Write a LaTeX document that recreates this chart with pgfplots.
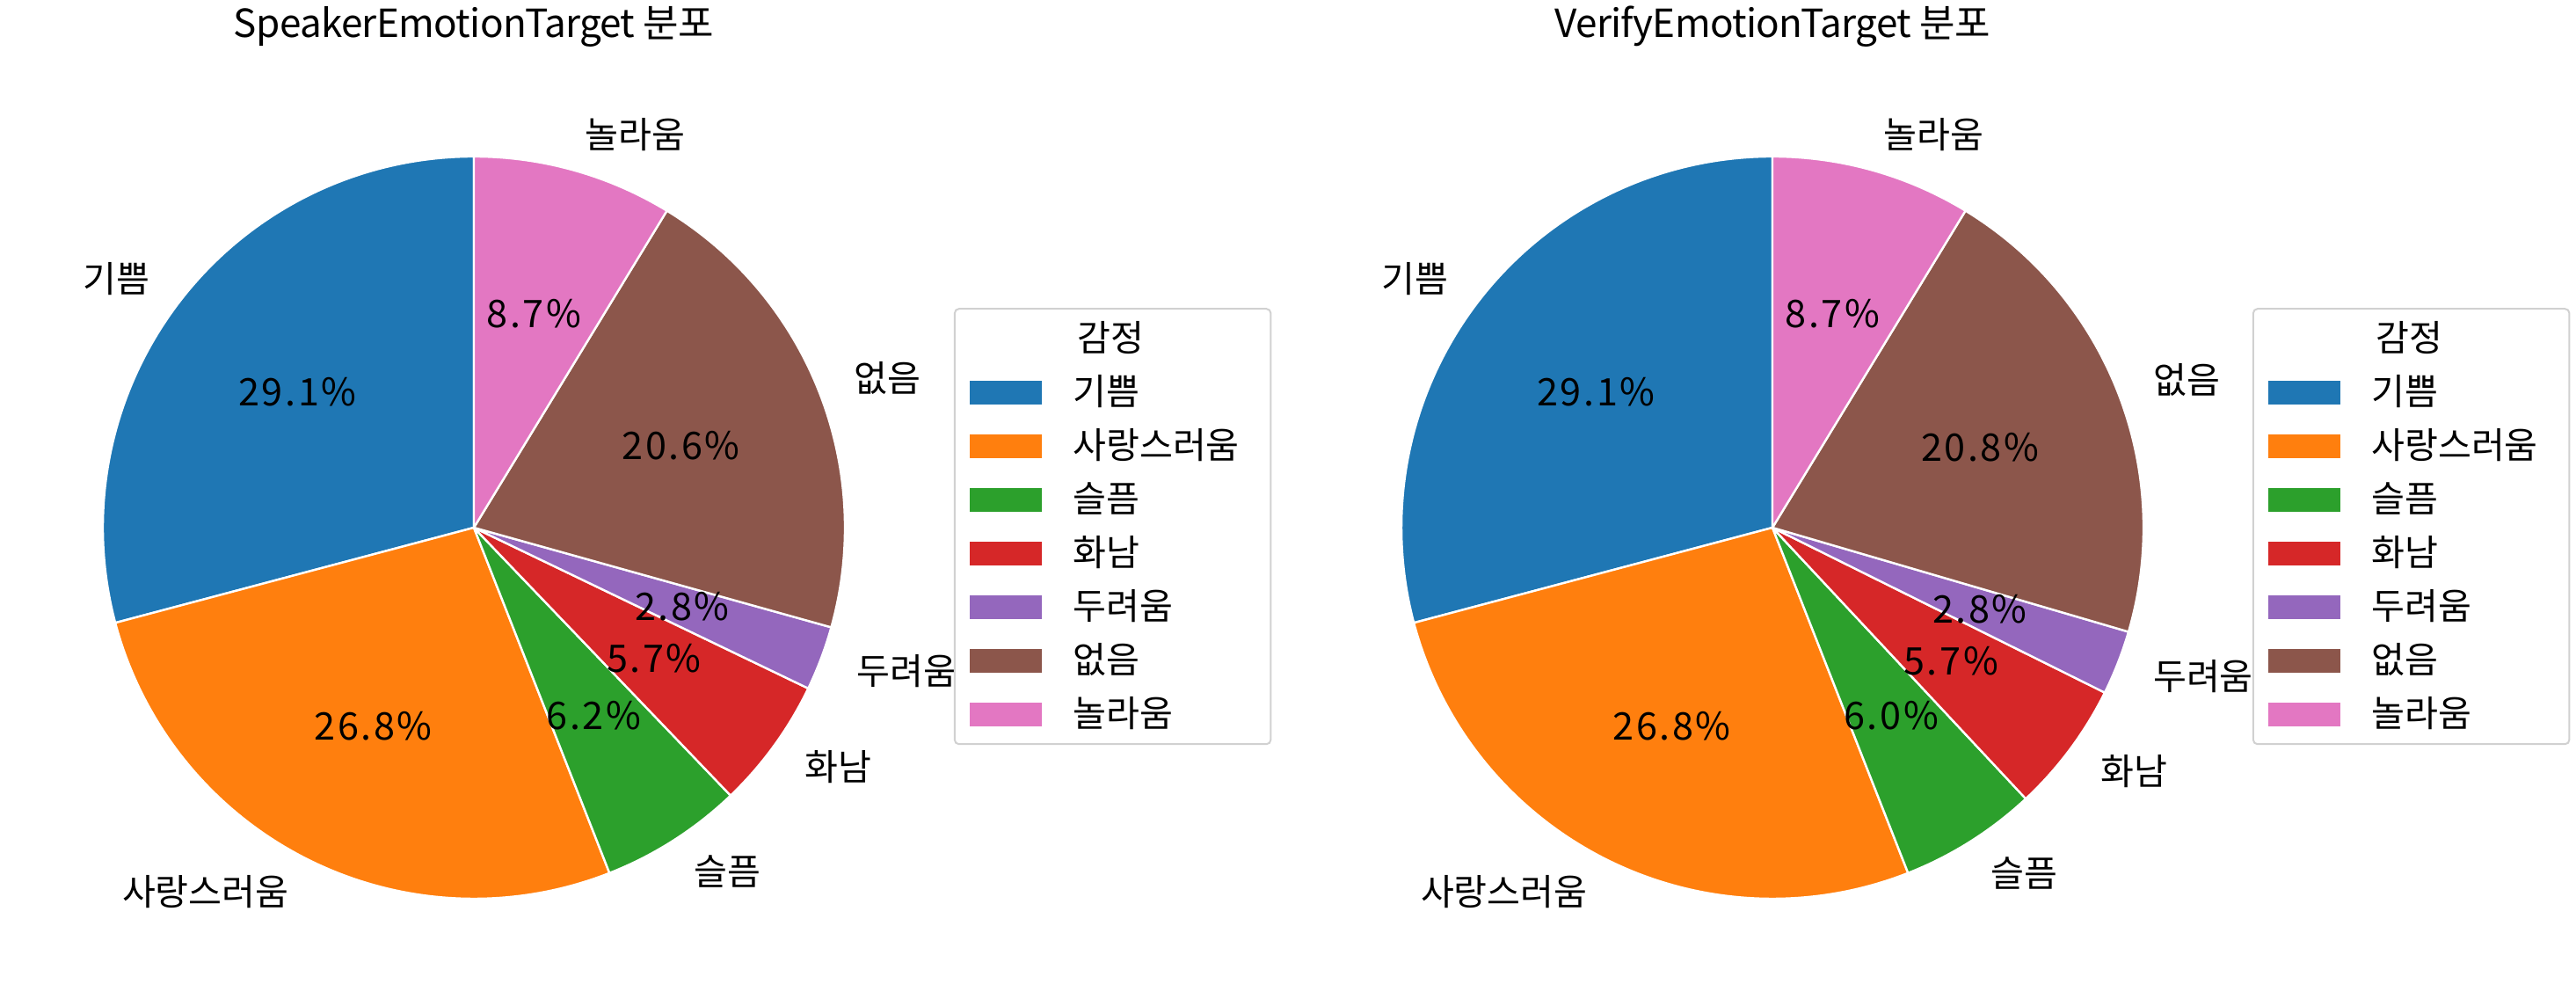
\documentclass[border=0pt]{standalone}
\usepackage{fontspec}
\setmainfont{Noto Sans CJK KR}
\usepackage{pgfplots}
\pgfplotsset{compat=1.18}
\usepackage{pgfplotstable}

\definecolor{c0}{HTML}{1F77B4}
\definecolor{c1}{HTML}{FF7F0E}
\definecolor{c2}{HTML}{2CA02C}
\definecolor{c3}{HTML}{D62728}
\definecolor{c4}{HTML}{9467BD}
\definecolor{c5}{HTML}{8C564B}
\definecolor{c6}{HTML}{E377C2}

\newcommand\lblfont{\fontsize{10.3pt}{12pt}\selectfont}
\newcommand\pctfont{\fontsize{10.8pt}{12pt}\selectfont\addfontfeature{LetterSpace=6}}
\newcommand\ttlfont{\fontsize{11pt}{13pt}\selectfont\addfontfeature{LetterSpace=-1.5}}

\pgfplotstableread[col sep=comma]{
label,value
기쁨,29.1
사랑스러움,26.8
슬픔,6.2
화남,5.7
두려움,2.8
없음,20.6
놀라움,8.7
}\tblA

\pgfplotstableread[col sep=comma]{
label,value
기쁨,29.1
사랑스러움,26.8
슬픔,6.0
화남,5.7
두려움,2.8
없음,20.8
놀라움,8.7
}\tblB

\newcommand\preppie[2]{%
  \pgfmathsetmacro\pTot{0}%
  \pgfplotsforeachungrouped \pI in {0,...,6}{%
    \pgfplotstablegetelem{\pI}{value}\of#1%
    \pgfmathsetmacro\pTot{\pTot+\pgfplotsretval}}%
  \def\pAcc{90}%
  \pgfplotsforeachungrouped \pI in {0,...,6}{%
    \pgfplotstablegetelem{\pI}{value}\of#1%
    \edef\pVal{\pgfplotsretval}%
    \pgfmathsetmacro\pEnd{\pAcc+360*\pVal/\pTot}%
    \pgfmathsetmacro\pMid{(\pAcc+\pEnd)/2}%
    \pgfmathsetmacro\pCos{cos(\pMid)}%
    \expandafter\xdef\csname#2S\pI\endcsname{\pAcc}%
    \expandafter\xdef\csname#2E\pI\endcsname{\pEnd}%
    \expandafter\xdef\csname#2M\pI\endcsname{\pMid}%
    \expandafter\xdef\csname#2V\pI\endcsname{\pVal}%
    \ifdim\pCos pt>0pt
      \expandafter\gdef\csname#2A\pI\endcsname{west}%
    \else
      \expandafter\gdef\csname#2A\pI\endcsname{east}%
    \fi
    \pgfplotstablegetelem{\pI}{label}\of#1%
    \expandafter\xdef\csname#2L\pI\endcsname{\pgfplotsretval}%
    \let\pAcc\pEnd
  }}
\preppie{\tblA}{PA}
\preppie{\tblB}{PB}

\newcommand\cs[1]{\csname#1\endcsname}

\pgfplotsset{
  legend image code/.code={\fill[#1, draw=none, sharp corners] (0pt,-3.375pt) rectangle (20.6pt,3.375pt);},
  pieax/.style={
    anchor=origin, x=105.5pt, y=105.5pt,
    xmin=-1.4, xmax=1.4, ymin=-1.4, ymax=1.4,
    hide axis, clip=false,
    legend style={at={(0.962,0.7114)}, anchor=north west, draw=black!18, fill=white,
      rounded corners=1.2pt, line width=0.5pt,
      inner xsep=4.25pt, inner ysep=4pt, row sep=6.25pt, column sep=8.75pt,
      nodes={inner sep=0pt, text height=8pt, text depth=1pt, font=\lblfont},
      cells={anchor=west}},
  },
}

\newcommand\drawpie[1]{%
  \pgfplotsinvokeforeach{0,...,6}{%
    \fill[c##1, draw=white, line width=0.6pt, line join=round] (axis cs:0,0) -- ++(\cs{#1S##1}:105.5pt)
      arc[start angle=\cs{#1S##1}, end angle=\cs{#1E##1}, radius=105.5pt] -- cycle;
  }%
  \pgfplotsinvokeforeach{0,...,6}{%
    \path (axis cs:0,0) ++(\cs{#1M##1}:116.05pt) node[anchor=\cs{#1A##1}, inner sep=0pt, font=\lblfont] {\cs{#1L##1}};
    \path (axis cs:0,0) ++(\cs{#1M##1}:63.3pt) node[inner sep=0pt, font=\pctfont] {\cs{#1V##1}\%};
  }%
  \addlegendimage{empty legend}\addlegendentry{\makebox[52pt][l]{\hspace{1.25pt}감정}}
  \pgfplotsinvokeforeach{0,...,6}{%
    \addlegendimage{fill=c##1}\addlegendentry{\makebox[52pt][l]{\cs{#1L##1}}}
  }%
}

\begin{document}
\begin{tikzpicture}
\begin{axis}[pieax, at={(134.75pt,133.75pt)}]
  \drawpie{PA}
  \node[font=\ttlfont, anchor=base, inner sep=0pt] at (axis cs:0,1.3199) {SpeakerEmotionTarget 분포};
\end{axis}
\begin{axis}[pieax, at={(504pt,133.75pt)}]
  \drawpie{PB}
  \node[font=\ttlfont, anchor=base, inner sep=0pt] at (axis cs:0,1.3199) {VerifyEmotionTarget 분포};
\end{axis}
\pgfresetboundingbox
\path[use as bounding box] (0,0) rectangle (732.5pt,283.75pt);
\end{tikzpicture}
\end{document}
